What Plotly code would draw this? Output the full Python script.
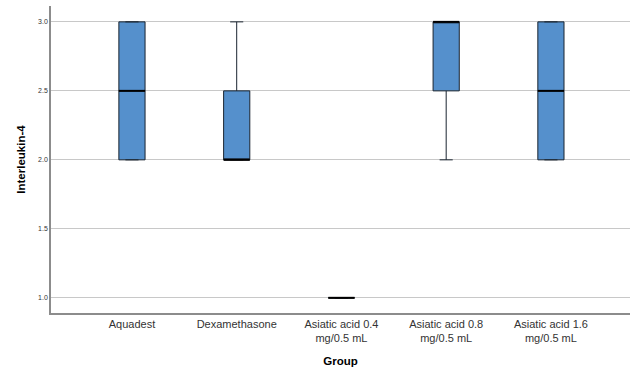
import plotly.graph_objects as go

groups = ["Aquadest", "Dexamethasone", "Asiatic acid 0.4<br>mg/0.5 mL",
          "Asiatic acid 0.8<br>mg/0.5 mL", "Asiatic acid 1.6<br>mg/0.5 mL"]
minimum = [2.0, 2.0, 1.0, 2.0, 2.0]
q1 = [2.0, 2.0, 1.0, 2.5, 2.0]
median = [2.5, 2.0, 1.0, 3.0, 2.5]
q3 = [3.0, 2.5, 1.0, 3.0, 3.0]
maximum = [3.0, 3.0, 1.0, 3.0, 3.0]
yticks = [1.0, 1.5, 2.0, 2.5, 3.0]

idx = list(range(len(groups)))
box_w = 0.25

fig = go.Figure()
fig.add_trace(go.Box(
    x=idx, q1=q1, median=median, q3=q3,
    lowerfence=minimum, upperfence=maximum,
    width=box_w, whiskerwidth=0.5,
    fillcolor="#5590cc", line=dict(color="#1a2430", width=1),
    boxpoints=False, showlegend=False, hoverinfo="skip",
))

mx, my = [], []
for i, m in zip(idx, median):
    mx += [i - box_w / 2, i + box_w / 2, None]
    my += [m, m, None]
fig.add_trace(go.Scatter(x=mx, y=my, mode="lines",
                         line=dict(color="#000000", width=2),
                         showlegend=False, hoverinfo="skip"))

fig.update_layout(
    width=640, height=377,
    margin=dict(l=51, r=10, t=6, b=64),
    plot_bgcolor="white", paper_bgcolor="white",
    font=dict(family="Arial, Liberation Sans, sans-serif", color="#222222"),
)
fig.update_xaxes(
    range=[-0.773, 4.755], tickvals=idx, ticktext=groups, automargin=False,
    showgrid=False, zeroline=False, showline=True, linecolor="#8c8c8c", linewidth=1.5,
    ticks="", tickfont=dict(size=11, color="#333333"),
    title=dict(text="<b>Group</b>", font=dict(size=11.5, color="#000000"), standoff=14),
)
fig.update_yaxes(
    range=[0.89, 3.115], tickvals=yticks, ticktext=[f"{v:.1f}" for v in yticks],
    automargin=False,
    showgrid=True, gridcolor="#c8c8c8", gridwidth=1, zeroline=False,
    showline=True, linecolor="#8c8c8c", linewidth=1.5,
    ticks="", tickfont=dict(size=7, color="#333333"),
    title=dict(text="<b>Interleukin-4</b>", font=dict(size=11.5, color="#000000"), standoff=10),
)

fig.write_html("out.html", config={"displayModeBar": False},
               post_script="document.body.style.margin='0';document.body.style.padding='0';")
